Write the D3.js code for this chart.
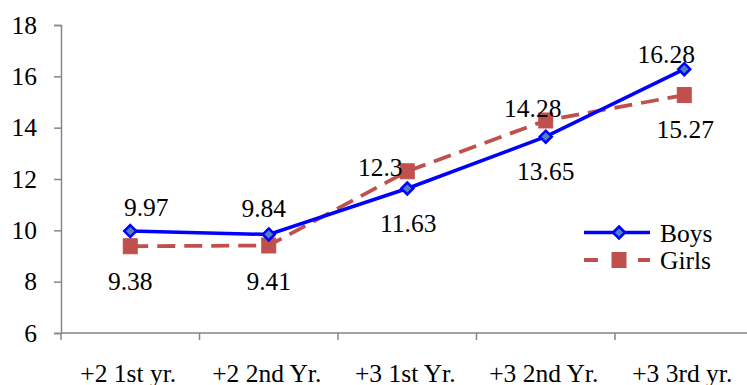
<!DOCTYPE html>
<html>
<head>
<meta charset="utf-8">
<script src="https://cdn.jsdelivr.net/npm/d3@7"></script>
<style>
  html, body { margin: 0; padding: 0; background: #fff; }
  svg { display: block; }
  text { font-family: "Liberation Serif", "Times New Roman", serif; fill: #000; }
</style>
</head>
<body>
<svg id="chart" width="747" height="385"></svg>
<script>
// Study years and mean scores for each group
const categories = ["+2 1st yr.", "+2 2nd Yr.", "+3 1st Yr.", "+3 2nd Yr.", "+3 3rd yr."];
const boys = [9.97, 9.84, 11.63, 13.65, 16.28];
const girls = [9.38, 9.41, 12.3, 14.28, 15.27];
const yTicks = [6, 8, 10, 12, 14, 16, 18];

// Label placement (dx: centre offset, dy: baseline offset from the point)
const boysLabelOffsets = [[16, -15], [-5, -17], [1, 44], [0, 43], [-18, -6]];
const girlsLabelOffsets = [[0, 44], [0, 44.5], [-27, 5], [-13, -3.5], [1, 43]];

const fontFamily = '"Liberation Serif", "Times New Roman", serif';
const svg = d3.select("#chart").style("font-family", fontFamily);
const fontSize = 25.5;
const axisColor = "#868686";

const x = d3.scaleBand().domain(categories).range([61, 753.5]).paddingInner(0).paddingOuter(0);
const y = d3.scaleLinear().domain([6, 18]).range([333, 25]);
const cx = c => x(c) + x.bandwidth() / 2;

// Y axis
const yAxis = d3.axisLeft(y).tickValues(yTicks).tickSize(7).tickPadding(17).tickFormat(d3.format("d"));
const gy = svg.append("g").attr("transform", "translate(61,0)").call(yAxis);
gy.attr("font-family", null).attr("font-size", null);
gy.select(".domain").attr("stroke", axisColor).attr("stroke-width", 1.5);
gy.selectAll(".tick line").attr("stroke", axisColor).attr("stroke-width", 1.5);
gy.selectAll(".tick text")
  .style("font-family", fontFamily)
  .style("font-size", fontSize + "px").attr("fill", "#000");

// X axis with ticks on the category boundaries
const gx = svg.append("g").attr("transform", "translate(0,333)");
gx.append("line").attr("x1", 61).attr("x2", 753.5).attr("y1", 0).attr("y2", 0)
  .attr("stroke", axisColor).attr("stroke-width", 1.5);
gx.selectAll("line.tk").data(categories.concat(["end"])).enter().append("line")
  .attr("class", "tk")
  .attr("x1", (d, i) => 61 + i * x.bandwidth()).attr("x2", (d, i) => 61 + i * x.bandwidth())
  .attr("y1", 0).attr("y2", 7).attr("stroke", axisColor).attr("stroke-width", 1.5);
gx.selectAll("text").data(categories).enter().append("text")
  .attr("x", d => cx(d) - 2).attr("y", 49)
  .attr("text-anchor", "middle").style("font-size", fontSize + "px").text(d => d);

// Series lines
const line = d3.line().x((d, i) => cx(categories[i])).y(d => y(d));

svg.append("path").datum(girls).attr("d", line)
  .attr("fill", "none").attr("stroke", "#C0504D").attr("stroke-width", 3.8)
  .attr("stroke-dasharray", "18,9");

svg.append("path").datum(boys).attr("d", line)
  .attr("fill", "none").attr("stroke", "#0000FF").attr("stroke-width", 3.5);

// Markers
const diamond = (g, px, py) => g.append("path")
  .attr("d", `M${px},${py - 6}L${px + 6},${py}L${px},${py + 6}L${px - 6},${py}Z`)
  .attr("fill", "#4F81BD").attr("stroke", "#0000FF").attr("stroke-width", 2.5);
const square = (g, px, py) => g.append("rect")
  .attr("x", px - 7).attr("y", py - 7.5).attr("width", 14).attr("height", 15)
  .attr("fill", "#C0504D").attr("stroke", "#C0504D").attr("stroke-width", 1);

const gm = svg.append("g");
girls.forEach((v, i) => square(gm, cx(categories[i]), y(v)));
boys.forEach((v, i) => diamond(gm, cx(categories[i]), y(v)));

// Value labels
const labels = svg.append("g").style("font-size", fontSize + "px").attr("text-anchor", "middle");
boys.forEach((v, i) => labels.append("text")
  .attr("x", cx(categories[i]) + boysLabelOffsets[i][0])
  .attr("y", y(v) + boysLabelOffsets[i][1]).text(v));
girls.forEach((v, i) => labels.append("text")
  .attr("x", cx(categories[i]) + girlsLabelOffsets[i][0])
  .attr("y", y(v) + girlsLabelOffsets[i][1]).text(v));

// Legend
const lg = svg.append("g");
lg.append("line").attr("x1", 584).attr("x2", 650).attr("y1", 232.5).attr("y2", 232.5)
  .attr("stroke", "#0000FF").attr("stroke-width", 3.5);
diamond(lg, 619, 232.5);
lg.append("text").attr("x", 660).attr("y", 241.5).style("font-size", fontSize + "px").text("Boys");
lg.append("line").attr("x1", 584).attr("x2", 650).attr("y1", 260).attr("y2", 260)
  .attr("stroke", "#C0504D").attr("stroke-width", 3.8).attr("stroke-dasharray", "14,40,12");
square(lg, 619, 260);
lg.append("text").attr("x", 660).attr("y", 268.5).style("font-size", fontSize + "px").text("Girls");
</script>
</body>
</html>
